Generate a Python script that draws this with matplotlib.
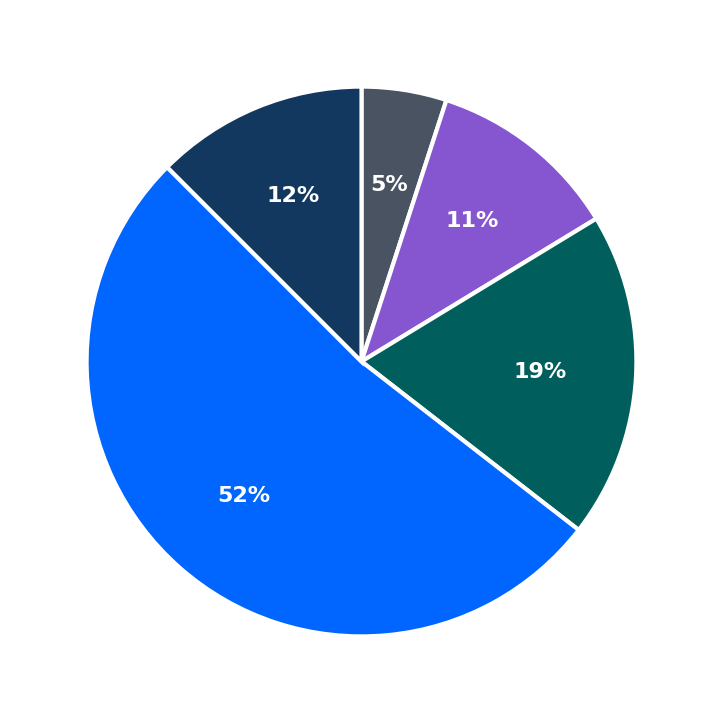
import matplotlib
matplotlib.use("Agg")
import matplotlib.pyplot as plt

labels = ["A", "B", "C", "D", "E"]
values = [5.0, 11.3, 19.2, 52.0, 12.5]
colors = ["#4a5361", "#8556cf", "#005f5c", "#0066ff", "#133860"]

fig = plt.figure(figsize=(7.23, 7.23), dpi=100)
ax = fig.add_axes([0, 0, 1, 1])
wedges, texts, autotexts = ax.pie(
    values, colors=colors, startangle=90, counterclock=False,
    autopct=lambda p: f"{p:.0f}%", pctdistance=0.65, radius=1,
    wedgeprops=dict(edgecolor="white", linewidth=3),
    textprops=dict(color="white", fontsize=16, fontweight="bold"))
ax.set_xlim(-1.315, 1.315)
ax.set_ylim(-1.315, 1.315)
ax.set_aspect("equal")
ax.axis("off")
fig.savefig("out.png", dpi=100)
